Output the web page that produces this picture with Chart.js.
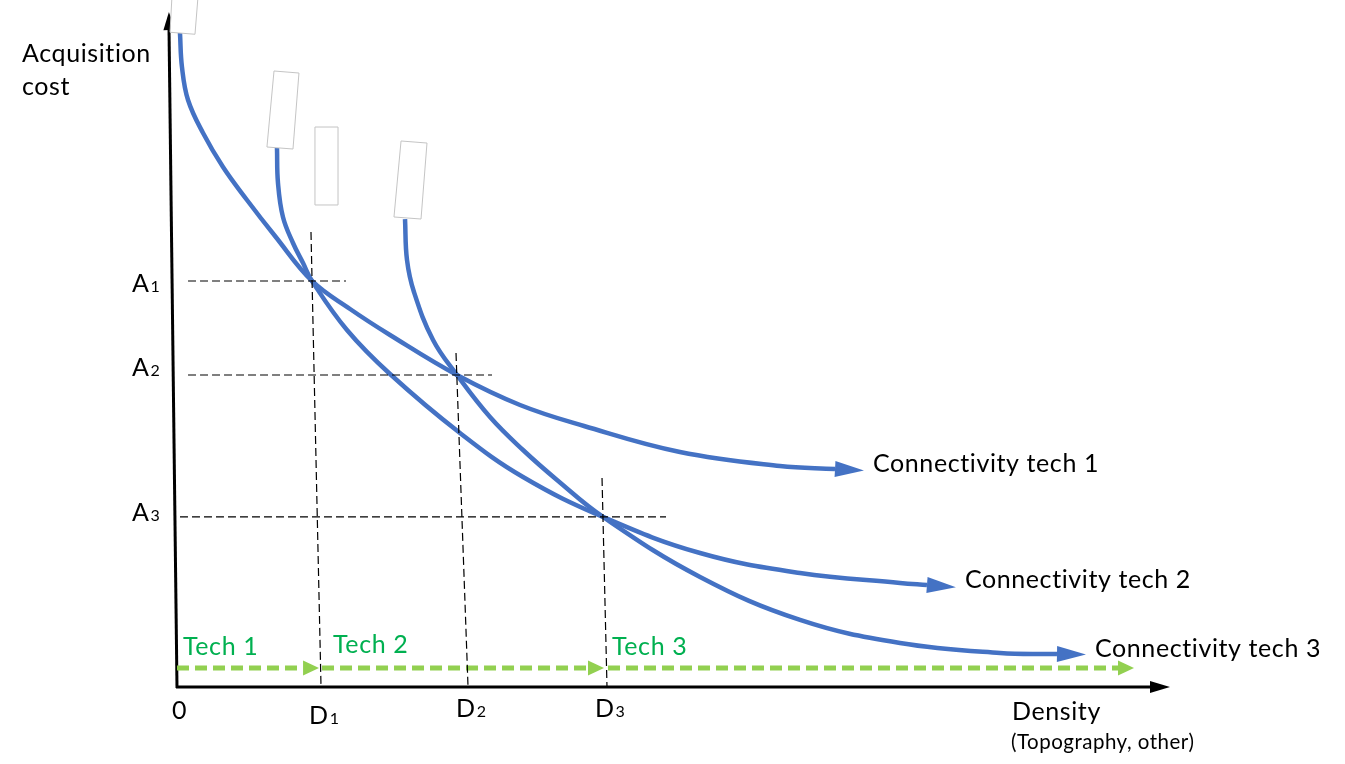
<!DOCTYPE html>
<html>
<head>
<meta charset="utf-8">
<title>Acquisition cost vs density</title>
<script src="https://cdn.jsdelivr.net/npm/chart.js@4.4.1/dist/chart.umd.min.js"></script>
<style>
  html, body { margin: 0; padding: 0; background: #fff; }
  canvas { display: block; }
</style>
</head>
<body>
<canvas id="grafico" width="1345" height="764"></canvas>
<script>
// Density (x) and acquisition cost (y), schematic units 0..100
const tech1X = [0.40, 0.60, 1.21, 2.72, 4.73, 7.14, 9.96, 13.68, 17.51, 21.53, 28.27, 34.61, 41.05, 50.70, 60.76, 66.30];
const tech1Y = [96.89, 91.85, 86.96, 82.07, 77.04, 72.15, 66.81, 60.15, 56.00, 52.15, 46.22, 41.78, 38.67, 34.81, 32.74, 32.30];

const tech2X = [10.16, 10.26, 10.76, 11.77, 12.78, 13.68, 17.20, 21.53, 28.57, 34.91, 42.96, 52.72, 62.78, 72.84, 75.55];
const tech2Y = [79.85, 74.67, 69.63, 65.78, 62.81, 60.15, 52.89, 46.37, 37.63, 31.11, 25.19, 19.85, 16.89, 15.41, 15.11];

const tech3X = [23.04, 23.24, 23.94, 25.86, 28.27, 31.59, 34.91, 38.33, 42.96, 52.72, 62.78, 72.84, 82.90, 88.63];
const tech3Y = [69.33, 63.26, 58.52, 51.41, 46.22, 40.00, 35.11, 30.67, 25.19, 16.30, 9.93, 6.52, 5.04, 4.89];

const curveNames = ['Connectivity tech 1', 'Connectivity tech 2', 'Connectivity tech 3'];

// cost levels A1..A3 with the extent of their dashed guide
const costLevels = [60.15, 46.22, 25.19];
const costGuideFrom = [1.21, 1.21, 0.40];
const costGuideTo = [17.10, 31.79, 49.30];
const costLabels = ['1', '2', '3'];

// density levels D1..D3 (guides lean slightly, top and bottom x)
const densityTopX = [13.58, 28.17, 42.86];
const densityTopY = [67.41, 49.48, 30.96];
const densityBottomX = [14.59, 29.38, 43.36];
const densityLabels = ['1', '2', '3'];

// technology ranges along the density axis
const techNames = ['Tech 1', 'Tech 2', 'Tech 3'];
const techFrom = [0.10, 14.69, 43.46];
const techTo = [12.78, 41.45, 94.77];
const techLevel = 2.81;

// leftover empty text frames of the original drawing
const frames = [
    [[-0.40, 102.5], [2.21, 102.2], [1.91, 96.7], [-0.60, 97.0]],
    [[9.86, 91.26], [12.37, 90.96], [11.77, 79.70], [9.15, 80.0]],
    [[13.98, 82.96], [16.30, 82.96], [16.30, 71.41], [13.98, 71.41]],
    [[22.64, 80.89], [25.25, 80.59], [24.65, 69.33], [21.93, 69.63]]
];

const AZUL = '#4472C4';
const VERDE = '#92D050';
const VERDE_TEXTO = '#00B050';
const FUENTE = 'Lato, "Open Sans", sans-serif';

const puntos = (xs, ys) => xs.map((x, i) => ({ x: x, y: ys[i] }));

const datasets = [];

costLevels.forEach((a, i) => {
    datasets.push({
        data: [{ x: costGuideFrom[i], y: a }, { x: costGuideTo[i], y: a }],
        borderColor: '#000', borderWidth: 1.2, borderDash: [8, 4], tension: 0
    });
});
densityTopX.forEach((d, i) => {
    datasets.push({
        data: [{ x: d, y: densityTopY[i] }, { x: densityBottomX[i], y: 0 }],
        borderColor: '#000', borderWidth: 1.2, borderDash: [8, 4], tension: 0
    });
});
techFrom.forEach((t, i) => {
    datasets.push({
        data: [{ x: t, y: techLevel }, { x: techTo[i], y: techLevel }],
        borderColor: VERDE, borderWidth: 5, borderDash: [12, 6], tension: 0, arrow: 16
    });
});
[[tech1X, tech1Y], [tech2X, tech2Y], [tech3X, tech3Y]].forEach((c, i) => {
    datasets.push({
        label: curveNames[i],
        data: puntos(c[0], c[1]),
        borderColor: AZUL, borderWidth: 4.5,
        tension: 0.4,
        arrow: 29, curve: i
    });
});

function flecha(ctx, x0, y0, x1, y1, largo, ancho, color) {
    const ang = Math.atan2(y1 - y0, x1 - x0);
    const tx = x1 + largo * Math.cos(ang), ty = y1 + largo * Math.sin(ang);
    const nx = -Math.sin(ang) * ancho, ny = Math.cos(ang) * ancho;
    ctx.beginPath();
    ctx.moveTo(tx, ty);
    ctx.lineTo(x1 + nx, y1 + ny);
    ctx.lineTo(x1 - nx, y1 - ny);
    ctx.closePath();
    ctx.fillStyle = color;
    ctx.fill();
    return { x: tx, y: ty };
}

function texto(ctx, t, x, y, tam) {
    ctx.font = tam + 'px ' + FUENTE;
    ctx.letterSpacing = '0.6px';
    ctx.fillText(t, x, y);
    return ctx.measureText(t).width;
}

function conIndice(ctx, base, sub, x, y, tam) {
    const w = texto(ctx, base, x, y, tam);
    texto(ctx, sub, x + w + 1, y, Math.round(tam * 0.64));
}

const decoraciones = {
    id: 'decoraciones',
    beforeDatasetsDraw(chart) {
        const ctx = chart.ctx, sx = chart.scales.x, sy = chart.scales.y;
        const x0 = sx.getPixelForValue(0), y0 = sy.getPixelForValue(0);
        const xEnd = sx.getPixelForValue(100), yEnd = sy.getPixelForValue(100);
        ctx.save();
        ctx.strokeStyle = '#000';
        ctx.lineWidth = 3;
        ctx.beginPath();
        ctx.moveTo(x0 + 1, y0 + 1);
        ctx.lineTo(x0 - 7, yEnd + 16);
        ctx.stroke();
        ctx.beginPath();
        ctx.moveTo(x0, y0);
        ctx.lineTo(xEnd - 18, y0);
        ctx.stroke();
        flecha(ctx, x0 - 6, yEnd + 40, x0 - 6.6, yEnd + 18, 18, 6, '#000');
        flecha(ctx, xEnd - 40, y0, xEnd - 20, y0, 20, 6, '#000');
        ctx.restore();
    },
    afterDatasetsDraw(chart) {
        const ctx = chart.ctx, sx = chart.scales.x, sy = chart.scales.y;
        const px = v => sx.getPixelForValue(v), py = v => sy.getPixelForValue(v);
        ctx.save();
        ctx.textBaseline = 'alphabetic';

        // arrow heads on the curves and on the technology ranges
        chart.data.datasets.forEach((ds, i) => {
            if (!ds.arrow) return;
            const pts = chart.getDatasetMeta(i).data;
            const a = pts[pts.length - 2], b = pts[pts.length - 1];
            const ancho = ds.curve === undefined ? 7.5 : 8;
            const tip = flecha(ctx, a.x, a.y, b.x, b.y, ds.arrow, ancho, ds.borderColor);
            if (ds.curve !== undefined) {
                ctx.fillStyle = '#000';
                texto(ctx, ds.label, tip.x + 9, b.y + 3, 25);
            }
        });

        // empty frames
        ctx.lineWidth = 1;
        ctx.strokeStyle = '#c4c4c4';
        frames.forEach(f => {
            ctx.beginPath();
            f.forEach((p, k) => k ? ctx.lineTo(px(p[0]), py(p[1])) : ctx.moveTo(px(p[0]), py(p[1])));
            ctx.closePath();
            ctx.fillStyle = '#fff';
            ctx.fill();
            ctx.stroke();
        });

        // axis texts
        ctx.fillStyle = '#000';
        texto(ctx, 'Acquisition', 22, 62, 25);
        texto(ctx, 'cost', 22, 95, 25);
        texto(ctx, '0', px(0) - 4, py(0) + 32, 25);
        texto(ctx, 'Density', 1012, py(0) + 33, 25);
        ctx.font = '20.5px ' + FUENTE;
        ctx.letterSpacing = '0.5px';
        ctx.fillText('(Topography, other)', 1011, py(0) + 62);

        costLevels.forEach((a, i) => {
            conIndice(ctx, 'A', costLabels[i], 132, [292, 376, 521][i], 25);
        });
        densityBottomX.forEach((d, i) => {
            conIndice(ctx, 'D', densityLabels[i], px(d) - 12, py(0) + [37, 30, 30][i], 25);
        });

        ctx.fillStyle = VERDE_TEXTO;
        techNames.forEach((t, i) => {
            texto(ctx, t, px(techFrom[i]) + [6, 11, 4][i], py(techLevel) - [13, 15, 13][i], 25);
        });
        ctx.restore();
    }
};

const config = {
    type: 'scatter',
    data: { datasets: datasets },
    options: {
        responsive: false,
        animation: false,
        showLine: true,
        layout: { padding: { left: 176, right: 175, top: 12, bottom: 77 } },
        elements: { point: { radius: 0, hoverRadius: 0 } },
        plugins: { legend: { display: false }, tooltip: { enabled: false } },
        scales: {
            x: { type: 'linear', min: 0, max: 100, display: false },
            y: { type: 'linear', min: 0, max: 100, display: false }
        }
    },
    plugins: [decoraciones]
};

const ctx = document.getElementById('grafico').getContext('2d');
new Chart(ctx, config);
</script>
</body>
</html>
